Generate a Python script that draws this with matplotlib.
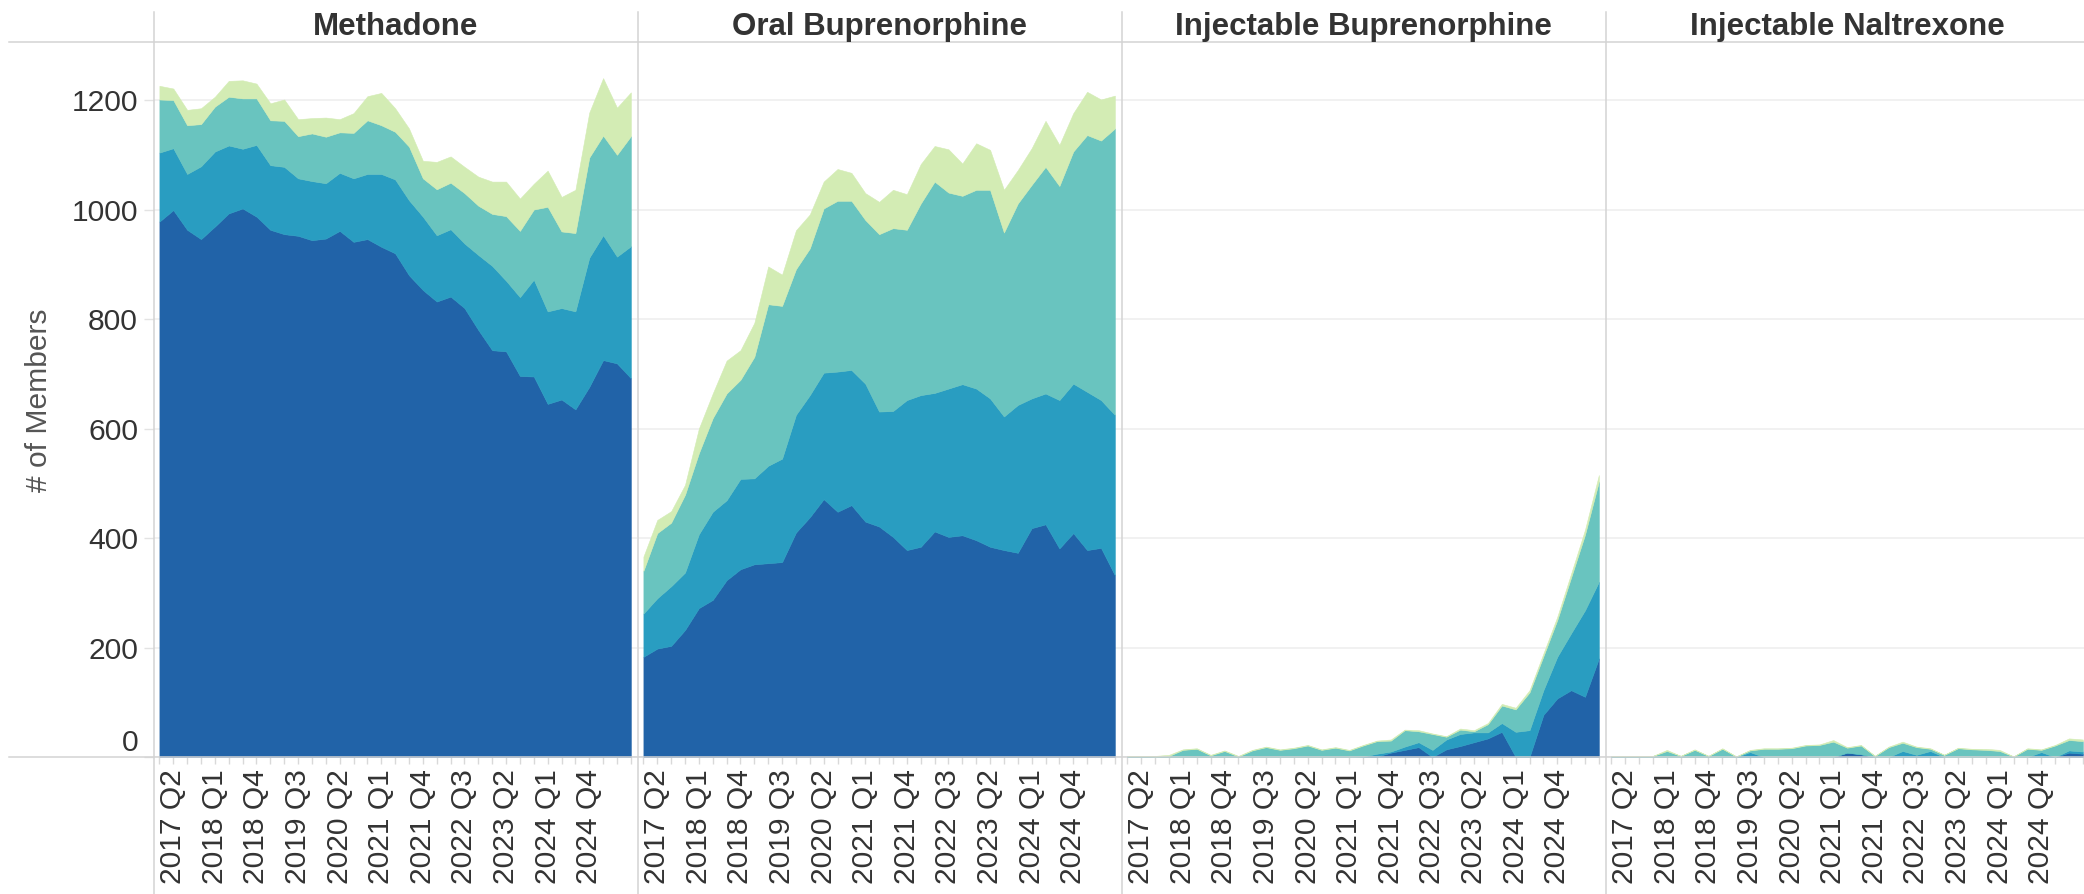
import matplotlib.pyplot as plt
from matplotlib.lines import Line2D

plt.rcParams['font.family'] = ['Liberation Sans', 'DejaVu Sans']

fig_w, fig_h, dpi = 2084, 894, 100

# 2017 Q1 .. 2025 Q3
quarters = [f'{2017 + q // 4} Q{q % 4 + 1}' for q in range(35)]

panel_titles = ['Methadone', 'Oral Buprenorphine',
                'Injectable Buprenorphine', 'Injectable Naltrexone']
layer_colors = ['#2163a8', '#299dc1', '#69c4bf', '#d3ecb4']

# values per quarter, bottom layer first
meth_1 = [978, 999, 963, 946, 969, 993, 1002, 987, 963, 955, 952, 944, 947, 961, 941, 946, 932, 920,
          880, 853, 832, 841, 820, 780, 743, 741, 696, 695, 645, 653, 635, 676, 725, 719, 692]
meth_2 = [126, 113, 102, 133, 137, 124, 109, 131, 118, 123, 105, 108, 101, 106, 116, 119, 133, 135,
          137, 134, 121, 123, 118, 137, 154, 129, 144, 177, 169, 167, 179, 236, 228, 195, 241]
meth_3 = [97, 88, 89, 77, 82, 89, 92, 85, 82, 84, 77, 87, 85, 74, 83, 98, 89, 87,
          98, 70, 84, 85, 92, 90, 95, 118, 121, 128, 191, 140, 143, 183, 182, 186, 201]
meth_4 = [25, 21, 28, 29, 18, 29, 33, 27, 31, 39, 31, 28, 35, 24, 36, 44, 59, 43,
          33, 32, 50, 48, 48, 53, 59, 63, 59, 47, 66, 63, 79, 82, 105, 86, 80]

oral_1 = [183, 198, 203, 232, 272, 287, 323, 343, 352, 354, 356, 410, 438, 471, 448, 460, 430, 421,
          402, 378, 384, 412, 402, 405, 396, 384, 378, 373, 418, 425, 381, 409, 378, 382, 332]
oral_2 = [79, 92, 109, 105, 135, 161, 146, 165, 157, 178, 189, 215, 223, 231, 256, 247, 252, 210,
          230, 274, 277, 253, 271, 276, 277, 271, 244, 270, 237, 239, 271, 273, 289, 270, 293]
oral_3 = [78, 119, 116, 142, 148, 171, 195, 181, 222, 295, 279, 266, 268, 300, 312, 309, 299, 324,
          334, 311, 350, 386, 358, 344, 363, 381, 336, 368, 390, 414, 391, 424, 469, 474, 523]
oral_4 = [26, 24, 21, 18, 45, 45, 60, 54, 62, 69, 57, 71, 62, 49, 58, 51, 49, 59,
          70, 65, 72, 65, 79, 59, 85, 73, 78, 61, 67, 84, 75, 70, 79, 75, 60]

injb_1 = [0, 0, 0, 0, 0, 0, 0, 0, 0, 0, 0, 0, 0, 0, 0, 0, 0, 0,
          1, 8, 13, 18, 0, 14, 20, 27, 34, 46, 0, 0, 77, 107, 122, 110, 180]
injb_2 = [0, 0, 0, 0, 0, 0, 0, 0, 0, 0, 0, 0, 0, 0, 0, 0, 0, 1,
          5, 2, 6, 9, 13, 18, 22, 18, 11, 16, 46, 49, 45, 76, 104, 158, 140]
injb_3 = [2, 2, 1, 2, 13, 15, 3, 11, 1, 12, 18, 13, 16, 21, 13, 17, 12, 20,
          23, 20, 30, 20, 29, 5, 8, 2, 15, 32, 41, 69, 62, 67, 102, 138, 183]
injb_4 = [0, 0, 1, 2, 1, 1, 1, 1, 1, 1, 1, 1, 1, 1, 1, 1, 1, 1,
          1, 2, 1, 2, 1, 1, 2, 2, 2, 3, 3, 4, 5, 6, 7, 9, 12]

injn_1 = [0, 0, 0, 0, 0, 0, 0, 0, 0, 0, 0, 0, 0, 0, 0, 0, 0, 8,
          5, 0, 0, 0, 0, 0, 0, 0, 0, 0, 0, 0, 0, 0, 0, 8, 6]
injn_2 = [0, 0, 0, 0, 0, 0, 0, 0, 0, 0, 9, 0, 0, 0, 0, 0, 0, 0,
          0, 0, 0, 11, 4, 11, 0, 0, 0, 0, 0, 0, 0, 9, 0, 4, 4]
injn_3 = [2, 2, 2, 2, 11, 2, 13, 2, 15, 1, 3, 15, 15, 16, 21, 22, 28, 9,
          16, 2, 18, 15, 14, 4, 4, 16, 14, 13, 11, 1, 15, 4, 21, 19, 19]
injn_4 = [0, 0, 0, 0, 2, 0, 1, 0, 1, 0, 1, 1, 1, 1, 1, 1, 3, 1,
          1, 0, 1, 2, 1, 1, 0, 1, 1, 2, 2, 0, 1, 1, 1, 3, 3]

panel_layers = [
    [meth_1, meth_2, meth_3, meth_4],
    [oral_1, oral_2, oral_3, oral_4],
    [injb_1, injb_2, injb_3, injb_4],
    [injn_1, injn_2, injn_3, injn_4],
]

y_ticks = [0, 200, 400, 600, 800, 1000, 1200]
# every third quarter is labelled, 2017 Q2 through 2024 Q4
label_idx = list(range(1, 32, 3))

line_color = '#d3d3d3'
text_color = '#333333'


def fx(px):
    return px / fig_w


def fy(py):
    # pixel rows are counted from the top
    return 1 - py / fig_h


fig = plt.figure(figsize=(fig_w / dpi, fig_h / dpi), dpi=dpi)

top_px, base_px = 42, 757
panel_left = [154, 638, 1122, 1606]
panel_w = 483.5

x = list(range(35))
for k, (title, layers) in enumerate(zip(panel_titles, panel_layers)):
    ax = fig.add_axes([fx(panel_left[k]), fy(base_px),
                       fx(panel_w), (base_px - top_px) / fig_h])
    ax.stackplot(x, *layers, colors=layer_colors, edgecolor='face', linewidth=0.4)
    ax.set_xlim(-0.39, 34.48)
    ax.set_ylim(0, 1306)
    for side in ax.spines.values():
        side.set_visible(False)
    ax.set_yticks(y_ticks)
    ax.grid(axis='y', color='#efefef', linewidth=1.2)
    ax.set_axisbelow(True)

    ax.set_xticks(label_idx)
    ax.set_xticklabels([quarters[i] for i in label_idx])
    ax.set_xticks(x, minor=True)
    ax.tick_params(axis='x', which='both', length=5, width=1, color='#d9d9d9',
                   pad=3.6, labelsize=21.6, labelcolor=text_color, labelrotation=90)

    if k == 0:
        ax.tick_params(axis='y', length=7.2, width=1, color='#e3e3e3', pad=4.3,
                       labelsize=21.6, labelcolor=text_color)
        ax.yaxis.get_major_ticks()[0].label1.set_va('bottom')
    else:
        ax.tick_params(axis='y', left=False, labelleft=False)

    fig.text(fx(panel_left[k] + panel_w / 2), fy(27), title, ha='center', va='center',
             fontsize=22.5, fontweight='bold', color=text_color)

fig.text(fx(39), fy(400), '# of Members', rotation=90, ha='center', va='center',
         fontsize=21.6, color='#555555')

# header and baseline rules, pane dividers
for yy in (top_px, base_px):
    fig.add_artist(Line2D([fx(9), 1], [fy(yy), fy(yy)], transform=fig.transFigure,
                          color=line_color, linewidth=1.1))
for xx in panel_left:
    fig.add_artist(Line2D([fx(xx), fx(xx)], [fy(12), 0], transform=fig.transFigure,
                          color=line_color, linewidth=1.1))

fig.savefig('out.png', dpi=dpi)
